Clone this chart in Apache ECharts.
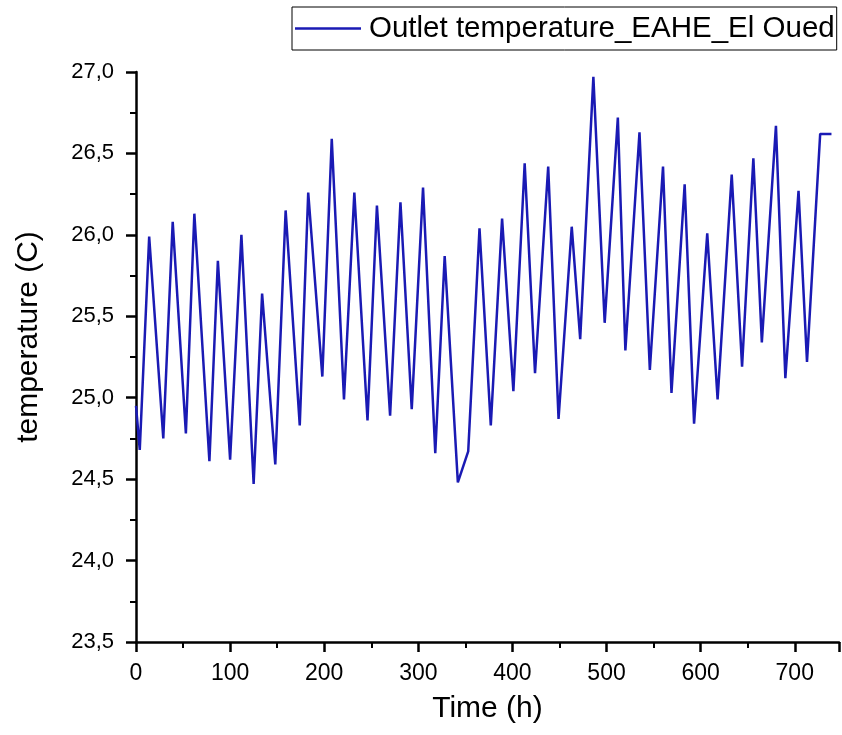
<!DOCTYPE html>
<html>
<head>
<meta charset="utf-8">
<script src="https://cdn.jsdelivr.net/npm/echarts@6/dist/echarts.min.js"></script>
<style>
  html, body { margin: 0; padding: 0; background: #fff; }
  #chart { width: 842px; height: 735px; }
</style>
</head>
<body>
<div id="chart"></div>
<script>
// hours at the turning points of the curve
const hours = [
  0, 4, 14, 29, 39, 53, 62, 78, 87, 100, 112, 125, 134, 148, 159, 174,
  183, 198, 208, 221, 232, 246, 256, 270, 281, 293, 305, 318, 328, 342,
  353, 365, 377, 389, 401, 413, 424, 438, 449, 463, 472, 486, 498, 512,
  520, 535, 546, 560, 569, 583, 593, 607, 618, 633, 644, 656, 665, 680,
  690, 704, 713, 727, 739
]
const outletTemp = [
  24.95, 24.68, 25.99, 24.75, 26.08, 24.78, 26.13, 24.61, 25.84, 24.62,
  26.00, 24.47, 25.64, 24.59, 26.15, 24.83, 26.26, 25.13, 26.59, 24.99,
  26.26, 24.86, 26.18, 24.89, 26.20, 24.93, 26.29, 24.66, 25.87, 24.48,
  24.67, 26.04, 24.83, 26.10, 25.04, 26.44, 25.15, 26.42, 24.87, 26.05,
  25.36, 26.97, 25.46, 26.72, 25.29, 26.63, 25.17, 26.42, 25.03, 26.31,
  24.84, 26.01, 24.99, 26.37, 25.19, 26.47, 25.34, 26.67, 25.12, 26.27,
  25.22, 26.62, 26.62
]
const seriesName = 'Outlet temperature_EAHE_El Oued'
const xTicks = [0, 100, 200, 300, 400, 500, 600, 700]
const yTicks = [23.5, 24.0, 24.5, 25.0, 25.5, 26.0, 26.5, 27.0]

const font = "'Liberation Sans', Arial, sans-serif"
const lineColor = '#1a1ab4'
const chart = echarts.init(document.getElementById('chart'))

chart.setOption({
  animation: false,
  grid: { left: 136, top: 72, right: 0, bottom: 93 },
  legend: {
    left: 292,
    top: 7,
    padding: [4, 2, 4, 3],
    icon: 'rect',
    itemWidth: 66,
    itemHeight: 2.5,
    itemGap: 0,
    itemStyle: { color: lineColor },
    borderColor: '#000',
    borderWidth: 1,
    textStyle: { fontFamily: font, fontSize: 29.5, color: '#000', lineHeight: 35, padding: [0, 0, 0, 3] },
    data: [seriesName]
  },
  xAxis: {
    type: 'value',
    min: 0,
    max: 747,
    interval: 100,
    name: 'Time (h)',
    nameLocation: 'middle',
    nameGap: 52,
    nameTextStyle: { fontFamily: font, fontSize: 30, color: '#000' },
    axisLine: { lineStyle: { color: '#000', width: 2.5 } },
    axisTick: { length: 10, lineStyle: { color: '#000', width: 2.5 } },
    minorTick: { show: true, splitNumber: 2, length: 6, lineStyle: { color: '#000', width: 2 } },
    axisLabel: {
      fontFamily: font,
      fontSize: 23,
      color: '#000',
      margin: 20,
      formatter: v => (xTicks.includes(v) ? String(v) : '')
    },
    splitLine: { show: false }
  },
  yAxis: {
    type: 'value',
    min: 23.5,
    max: 27,
    interval: 0.5,
    name: 'temperature (C)',
    nameLocation: 'middle',
    nameGap: 92,
    nameTextStyle: { fontFamily: font, fontSize: 30, color: '#000', padding: [0, 0, 0, 40] },
    axisLine: { show: true, lineStyle: { color: '#000', width: 2.5 } },
    axisTick: { show: true, length: 10, lineStyle: { color: '#000', width: 2.5 } },
    minorTick: { show: true, splitNumber: 2, length: 6, lineStyle: { color: '#000', width: 2 } },
    axisLabel: {
      fontFamily: font,
      fontSize: 22,
      color: '#000',
      margin: 22,
      formatter: v => (yTicks.includes(v) ? v.toFixed(1).replace('.', ',') : '')
    },
    splitLine: { show: false }
  },
  series: [{
    name: seriesName,
    type: 'line',
    data: hours.map((h, i) => [h, outletTemp[i]]),
    symbol: 'none',
    color: lineColor,
    lineStyle: { color: lineColor, width: 2.5 }
  }]
})
</script>
</body>
</html>
